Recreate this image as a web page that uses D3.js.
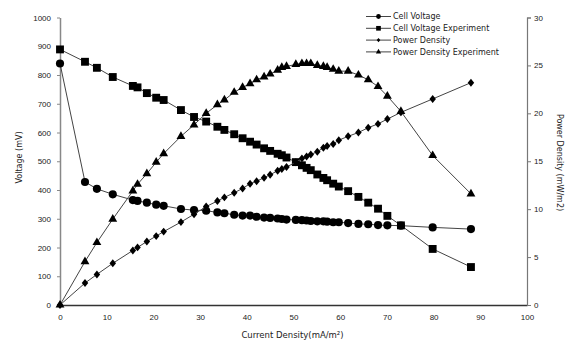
<!DOCTYPE html>
<html>
<head>
<meta charset="utf-8">
<script src="https://cdn.jsdelivr.net/npm/d3@7"></script>
<style>
  body { margin: 0; background: #fff; }
  svg { display: block; font-family: "DejaVu Sans", Verdana, sans-serif; }
  .axis text { font-size: 8px; fill: #222; }
</style>
</head>
<body>
<div id="chart"><svg></svg></div>
<script>
// current density (mA/m2), shared by all series
var current = [0, 5.35, 7.9, 11.3, 15.6, 16.6, 18.6, 20.6, 22.2, 25.9, 28.7, 31.3, 33.7, 35.2, 37.3, 39.1,
    40.7, 42.1, 43.7, 45.0, 46.6, 47.5, 48.5, 50.5, 51.8, 52.8, 53.7, 55.1, 56.4, 57.2, 58.5, 59.7,
    61.7, 63.9, 66.0, 68.1, 70.1, 73.0, 79.8, 88.0];

var cellVoltage = [840, 428, 404, 385, 365, 362, 356, 349, 345, 334, 330, 328, 322, 319, 314, 311,
    311, 307, 304, 303, 301, 299, 297, 296, 295, 294, 292, 291, 291, 290, 288, 288,
    285, 282, 281, 278, 277, 276, 270, 264];

var cellVoltageExp = [889, 846, 825, 793, 762, 757, 737, 721, 713, 678, 654, 638, 620, 609, 594, 580,
    568, 558, 545, 536, 526, 521, 513, 497, 486, 477, 469, 454, 442, 434, 422, 412,
    396, 376, 356, 335, 310, 277, 195, 132];

var powerDensity = [0, 2.29, 3.19, 4.35, 5.69, 6.01, 6.62, 7.19, 7.66, 8.65, 9.47, 10.27, 10.85, 11.23, 11.71, 12.16,
    12.66, 12.92, 13.28, 13.6, 14.0, 14.2, 14.4, 14.9, 15.3, 15.5, 15.7, 16.0, 16.4, 16.6, 16.8, 17.2,
    17.6, 18.0, 18.5, 18.9, 19.4, 20.1, 21.5, 23.2];

var powerDensityExp = [0, 4.53, 6.52, 8.96, 11.9, 12.6, 13.7, 14.9, 15.8, 17.6, 18.8, 20.0, 20.9, 21.4, 22.2, 22.7,
    23.1, 23.5, 23.8, 24.1, 24.5, 24.8, 24.9, 25.1, 25.2, 25.2, 25.2, 25.0, 24.9, 24.8, 24.6, 24.4,
    24.4, 24.0, 23.5, 22.8, 21.8, 20.2, 15.6, 11.6];

var xTicks = [0, 10, 20, 30, 40, 50, 60, 70, 80, 90, 100];
var yTicks = [0, 100, 200, 300, 400, 500, 600, 700, 800, 900, 1000];
var y2Ticks = [0, 5, 10, 15, 20, 25, 30];

var legendNames = ["Cell Voltage", "Cell Voltage Experiment", "Power Density", "Power Density Experiment"];

var svg = d3.select("#chart svg").attr("width", 566).attr("height", 341);

var margin = { top: 17.5, left: 60, right: 39, bottom: 36 },
    width = 566 - margin.left - margin.right,
    height = 341 - margin.top - margin.bottom;

var x = d3.scaleLinear().domain([0, 100]).range([0, width]);
var y = d3.scaleLinear().domain([0, 1000]).range([height, 0]);
var y2 = d3.scaleLinear().domain([0, 30]).range([height, 0]);

var g = svg.append("g")
    .attr("transform", "translate(" + margin.left + "," + margin.top + ")");

// diamond shape, a bit taller than wide
var diamond = {
    draw: function(ctx, size) {
        var r = Math.sqrt(size) / 2 * 1.414;
        ctx.moveTo(0, -r * 1.1);
        ctx.lineTo(r * 0.9, 0);
        ctx.lineTo(0, r * 1.1);
        ctx.lineTo(-r * 0.9, 0);
        ctx.closePath();
    }
};

var series = [
    { name: legendNames[0], values: cellVoltage, scale: y, symbol: d3.symbolCircle, size: 52, lsize: 18 },
    { name: legendNames[1], values: cellVoltageExp, scale: y, symbol: d3.symbolSquare, size: 62, lsize: 22 },
    { name: legendNames[2], values: powerDensity, scale: y2, symbol: diamond, size: 26, lsize: 8 },
    { name: legendNames[3], values: powerDensityExp, scale: y2, symbol: d3.symbolTriangle, size: 34, lsize: 12 }
];

// axes
var xAxis = g.append("g")
    .attr("class", "axis")
    .attr("transform", "translate(0," + height + ")")
    .call(d3.axisBottom(x).tickValues(xTicks).tickSize(0).tickPadding(9));
xAxis.select(".domain").attr("stroke", "#333").attr("stroke-width", 1.5);

var yAxis = g.append("g")
    .attr("class", "axis")
    .call(d3.axisLeft(y).tickValues(yTicks).tickFormat(d3.format("d"))
        .tickSize(3).tickPadding(6).tickSizeOuter(0));
yAxis.select(".domain").attr("stroke", "#888").attr("stroke-width", 1.5);
yAxis.selectAll(".tick line").attr("stroke", "#888");

var y2Axis = g.append("g")
    .attr("class", "axis")
    .attr("transform", "translate(" + width + ",0)")
    .call(d3.axisRight(y2).tickValues(y2Ticks).tickSize(4).tickPadding(3).tickSizeOuter(4));
y2Axis.select(".domain").attr("stroke", "#777").attr("stroke-width", 1.2);
y2Axis.selectAll(".tick line").attr("stroke", "#777");

// axis titles
svg.append("text")
    .attr("transform", "translate(22," + (margin.top + 140) + ") rotate(-90)")
    .attr("text-anchor", "middle")
    .style("font-size", "8px").attr("fill", "#222")
    .text("Voltage (mV)");

svg.append("text")
    .attr("transform", "translate(557," + (margin.top + 145) + ") rotate(90)")
    .attr("text-anchor", "middle")
    .style("font-size", "8px").attr("fill", "#222")
    .text("Power Density (mW/m2)");

svg.append("text")
    .attr("x", margin.left + x(50) - 1)
    .attr("y", 338)
    .attr("text-anchor", "middle")
    .style("font-size", "8.5px").attr("fill", "#222")
    .text("Current Density(mA/m²)");

// lines + markers
series.forEach(function(s) {
    var pts = current.map(function(c, i) { return { x: c, v: s.values[i] }; });

    var line = d3.line()
        .x(function(d) { return x(d.x); })
        .y(function(d) { return s.scale(d.v); });

    g.append("path")
        .datum(pts)
        .attr("d", line)
        .attr("fill", "none")
        .attr("stroke", "#444")
        .attr("stroke-width", 1);

    g.selectAll(null)
        .data(pts)
        .enter()
        .append("path")
        .attr("transform", function(d) { return "translate(" + x(d.x) + "," + s.scale(d.v) + ")"; })
        .attr("d", d3.symbol().type(s.symbol).size(s.size))
        .attr("fill", "#000");
});

// legend
var legend = svg.append("g").attr("transform", "translate(366,16.5)");

var item = legend.selectAll("g")
    .data(series)
    .enter()
    .append("g")
    .attr("transform", function(d, i) { return "translate(0," + (i * 11.8) + ")"; });

item.append("line")
    .attr("x1", 0).attr("x2", 25)
    .attr("stroke", "#444").attr("stroke-width", 1);

item.append("path")
    .attr("transform", "translate(12.5,0)")
    .attr("d", function(d) { return d3.symbol().type(d.symbol).size(d.lsize)(); })
    .attr("fill", "#000");

item.append("text")
    .attr("x", 27)
    .attr("dy", "0.33em")
    .style("font-size", "8px").attr("fill", "#222")
    .text(function(d) { return d.name; });
</script>
</body>
</html>
